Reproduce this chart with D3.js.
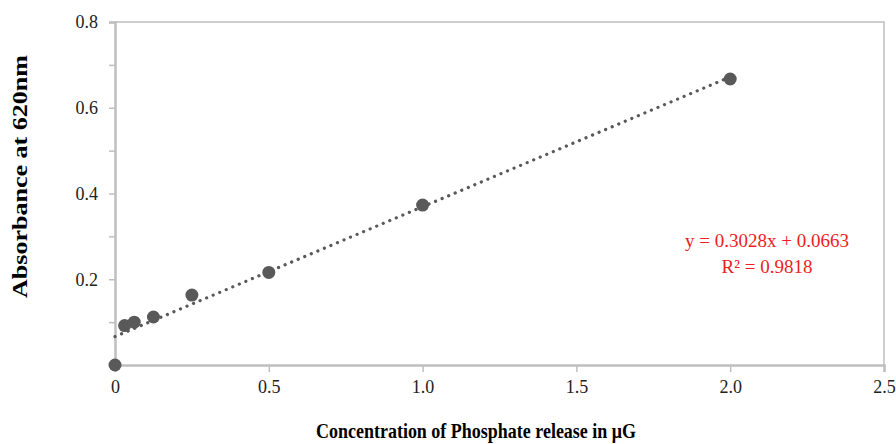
<!DOCTYPE html>
<html>
<head>
<meta charset="utf-8">
<script src="https://d3js.org/d3.v7.min.js"></script>
<style>
  body { margin: 0; background: #fff; }
  text { font-family: "Liberation Serif", "Times New Roman", serif; }
</style>
</head>
<body>
<div id="chart"></div>
<script>
// concentration (µG) vs absorbance
var concentration = [0, 0.03125, 0.0625, 0.125, 0.25, 0.5, 1.0, 2.0];
var absorbance = [0, 0.092, 0.100, 0.112, 0.163, 0.216, 0.373, 0.667];
var xTicks = [0, 0.5, 1.0, 1.5, 2.0, 2.5];
var xTickLabels = ["0", "0.5", "1.0", "1.5", "2.0", "2.5"];
var yTicks = [0.1, 0.2, 0.3, 0.4, 0.5, 0.6, 0.7, 0.8];
var yTickLabels = ["", "0.2", "", "0.4", "", "0.6", "", "0.8"];
var fitSlope = 0.3028, fitIntercept = 0.0663, fitR2 = 0.9818;
var fitRange = [0, 2.0];

var width = 896, height = 444;
var margin = {top: 22, right: 12, bottom: 79, left: 115};

var svg = d3.select('#chart').append('svg')
  .attr('width', width)
  .attr('height', height);

var x = d3.scaleLinear().domain([0, 2.5]).range([margin.left, width - margin.right]);
var y = d3.scaleLinear().domain([0, 0.8]).range([height - margin.bottom, margin.top]);

var axisColor = '#bfbfbf';

// plot frame (top + right)
svg.append('path')
  .attr('d', `M${x(0)},${y(0.8)}H${x(2.5)}V${y(0)}`)
  .attr('fill', 'none')
  .attr('stroke', axisColor)
  .attr('stroke-width', 1.5);

// x axis
var xAxis = svg.append('g')
  .attr('transform', `translate(0,${y(0)})`)
  .call(d3.axisBottom(x).tickValues(xTicks).tickSize(7).tickPadding(8)
    .tickFormat((d, i) => xTickLabels[i]));
xAxis.select('.domain').attr('stroke', axisColor).attr('stroke-width', 2.5);
xAxis.selectAll('.tick line').attr('stroke', axisColor).attr('stroke-width', 1.5);
xAxis.selectAll('.tick text')
  .attr('fill', '#222')
  .style('font-size', '18px')
  .style('font-family', '"Liberation Serif", serif');

// y axis
var yAxis = svg.append('g')
  .attr('transform', `translate(${x(0)},0)`)
  .call(d3.axisLeft(y).tickValues(yTicks).tickSize(6).tickPadding(11)
    .tickFormat((d, i) => yTickLabels[i]));
yAxis.select('.domain').attr('stroke', axisColor).attr('stroke-width', 2.5);
yAxis.selectAll('.tick line').attr('stroke', axisColor).attr('stroke-width', 1.5);
yAxis.selectAll('.tick text')
  .attr('fill', '#222')
  .style('font-size', '18px')
  .style('font-family', '"Liberation Serif", serif');

// trend line
svg.append('line')
  .attr('x1', x(fitRange[0]))
  .attr('y1', y(fitSlope * fitRange[0] + fitIntercept))
  .attr('x2', x(fitRange[1]))
  .attr('y2', y(fitSlope * fitRange[1] + fitIntercept))
  .attr('stroke', '#595959')
  .attr('stroke-width', 3.2)
  .attr('stroke-linecap', 'round')
  .attr('stroke-dasharray', '0.1 7');

// points
svg.selectAll('.pt')
  .data(concentration)
  .enter()
  .append('circle')
  .attr('class', 'pt')
  .attr('cx', d => x(d))
  .attr('cy', (d, i) => y(absorbance[i]))
  .attr('r', 6.5)
  .attr('fill', '#595959');

// equation
var eq = svg.append('text')
  .attr('x', 767)
  .attr('y', 247)
  .attr('text-anchor', 'middle')
  .attr('fill', '#ee1c25')
  .style('font-size', '19px');
eq.append('tspan').attr('x', 767).text(`y = ${fitSlope}x + ${fitIntercept}`);
eq.append('tspan').attr('x', 767).attr('dy', 26).text(`R² = ${fitR2}`);

// axis titles
svg.append('text')
  .attr('x', 476)
  .attr('y', 438)
  .attr('text-anchor', 'middle')
  .attr('textLength', 320)
  .attr('lengthAdjust', 'spacingAndGlyphs')
  .style('font-size', '21px')
  .style('font-weight', 'bold')
  .text('Concentration of Phosphate release in μG');

svg.append('text')
  .attr('transform', `translate(27,${(y(0) + y(0.8)) / 2 - 17}) rotate(-90)`)
  .attr('text-anchor', 'middle')
  .attr('textLength', 243)
  .attr('lengthAdjust', 'spacingAndGlyphs')
  .style('font-size', '21px')
  .style('font-weight', 'bold')
  .text('Absorbance at 620nm');
</script>
</body>
</html>
